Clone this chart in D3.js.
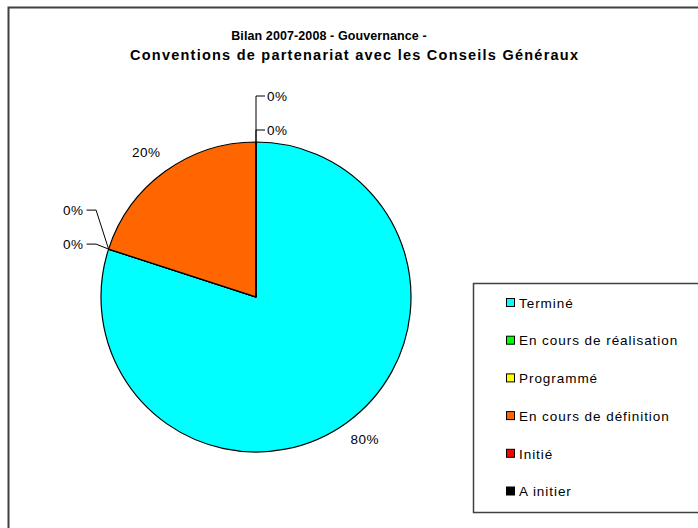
<!DOCTYPE html>
<html>
<head>
<meta charset="utf-8">
<script src="https://cdn.jsdelivr.net/npm/d3@7"></script>
<style>
  html, body { margin: 0; padding: 0; background: #fff; }
  svg { display: block; font-family: "Liberation Sans", Arial, sans-serif; }
</style>
</head>
<body>
<svg id="chart" width="698" height="528"></svg>
<script>
const titleLines = ["Bilan 2007-2008 - Gouvernance -", "Conventions de partenariat avec les Conseils Généraux"];
const categories = ["Terminé", "En cours de réalisation", "Programmé", "En cours de définition", "Initié", "A initier"];
const values = [80, 0, 0, 20, 0, 0];
const colors = ["#00FFFF", "#00FF00", "#FFFF00", "#FF6600", "#FF0000", "#000000"];

const svg = d3.select("#chart");

// outer frame
svg.append("rect").attr("x", 8.5).attr("y", 7.5).attr("width", 720).attr("height", 540)
  .attr("fill", "#fff").attr("stroke", "#404040").attr("stroke-width", 2);

// title
const titleStyle = [
  { x: 329, y: 39.5, size: 12.5, spacing: 0.1 },
  { x: 354, y: 59.5, size: 14.5, len: 448 }
];
titleLines.forEach((t, i) => {
  const s = titleStyle[i];
  const el = svg.append("text").attr("text-anchor", "middle")
    .attr("font-weight", "bold").attr("font-size", s.size).attr("fill", "#000")
    .attr("x", s.x).attr("y", s.y)
    .text(t);
  if (s.len) el.attr("textLength", s.len).attr("lengthAdjust", "spacing");
  else el.attr("letter-spacing", s.spacing);
});

// pie
const cx = 256, cy = 297, r = 155;
const total = d3.sum(values);
const pie = d3.pie().sort(null).value(d => d)(values);
const arc = d3.arc().innerRadius(0).outerRadius(r);
const g = svg.append("g").attr("transform", `translate(${cx},${cy})`);
g.selectAll("path").data(pie).enter().append("path")
  .attr("d", arc)
  .attr("fill", (d, i) => colors[i])
  .attr("stroke", "#000").attr("stroke-width", 1.2);

const fmt = v => Math.round(v / total * 100) + "%";

// labels for non-zero slices
const labelArc = d3.arc().innerRadius(r * 1.16).outerRadius(r * 1.16);
g.selectAll("text.big").data(pie.filter(d => d.value > 0)).enter().append("text")
  .attr("class", "big")
  .attr("x", d => labelArc.centroid(d)[0] + (labelArc.centroid(d)[0] < 0 ? -4 : 3))
  .attr("y", d => labelArc.centroid(d)[1] + (labelArc.centroid(d)[1] > 0 ? -3 : 1))
  .attr("dy", "0.35em")
  .attr("text-anchor", "middle")
  .attr("font-size", 13.5).attr("letter-spacing", 0.5)
  .text(d => fmt(d.value));

// zero-value labels with leader lines, grouped by angle
const zeros = pie.filter(d => d.value === 0);
const groups = d3.groups(zeros, d => d.startAngle.toFixed(4));
groups.forEach(([key, items]) => {
  const a = items[0].startAngle;
  const px = Math.sin(a) * r, py = -Math.cos(a) * r;
  const top = Math.abs(Math.sin(a)) < 0.01;
  items.forEach((d, k) => {
    let pts, tx, ty, anchor;
    if (top) {
      ty = py - 46 + k * 34;
      pts = [[px, py], [px, ty], [px + 9, ty]];
      tx = px + 11; anchor = "start";
    } else {
      ty = py - 39 + k * 34;
      const bx = px - 12.5;
      pts = [[px, py], [bx, ty], [bx - 9.5, ty]];
      tx = bx - 12.5; anchor = "end";
    }
    g.append("path").attr("d", d3.line()(pts)).attr("fill", "none")
      .attr("stroke", "#000").attr("stroke-width", 1);
    g.append("text").attr("x", tx).attr("y", ty).attr("dy", "0.35em")
      .attr("text-anchor", anchor).attr("font-size", 13.5).attr("letter-spacing", 0.5)
      .text(fmt(d.value));
  });
});

// legend
const lx = 473.5, ly = 283.5;
svg.append("rect").attr("x", lx).attr("y", ly).attr("width", 260).attr("height", 229)
  .attr("fill", "#fff").attr("stroke", "#404040").attr("stroke-width", 1.5);
const leg = svg.append("g");
categories.forEach((c, i) => {
  const yy = 303 + i * 37.7;
  leg.append("rect").attr("x", 506.5).attr("y", yy - 4.5).attr("width", 8).attr("height", 8)
    .attr("fill", colors[i]).attr("stroke", "#000").attr("stroke-width", 1);
  leg.append("text").attr("x", 519).attr("y", yy).attr("dy", "0.35em")
    .attr("font-size", 13.5).attr("letter-spacing", 0.95).text(c);
});
</script>
</body>
</html>
